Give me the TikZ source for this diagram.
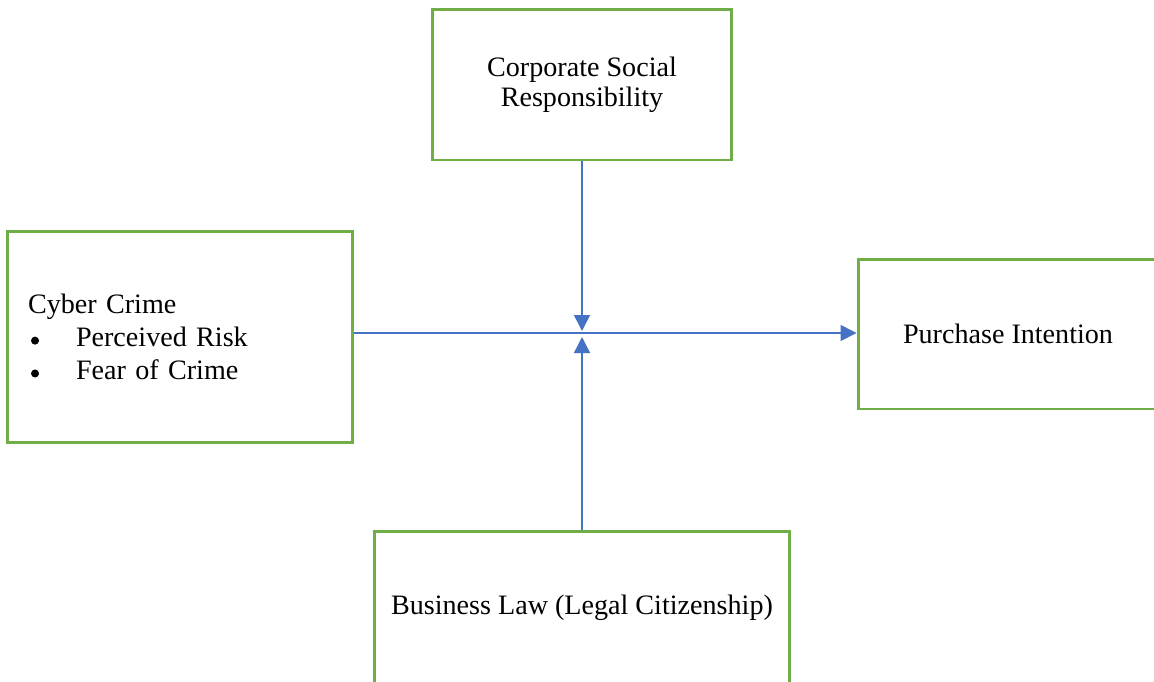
\documentclass[tikz,border=0pt]{standalone}
\usepackage{fontspec}
\setmainfont{Liberation Serif}
\usetikzlibrary{arrows.meta}

\definecolor{boxgreen}{RGB}{112,173,71}
\definecolor{linkblue}{RGB}{68,114,196}

% round list marker
\newcommand{\dotmark}{\makebox[0.96cm][l]{\hspace{0.06cm}\tikz[baseline=-0.12cm]\fill (0,0) circle (0.08cm);}}

\begin{document}
\begin{tikzpicture}[x=0.02cm,y=-0.02cm,
    box/.style={draw=boxgreen,line width=1.7pt,align=center,
      font=\fontsize{16}{17}\selectfont},
    link/.style={draw=linkblue,line width=0.85pt,
      -{Triangle[length=0.32cm,width=0.32cm]}}]
        \useasboundingbox (0,0) rectangle (1154,681);
        \clip (0,0) rectangle (1154,681);

        % the four constructs
        \node[box,minimum width=6cm,minimum height=3.02cm] (csr) at (582,84.5)
          {Corporate Social\\Responsibility};
        \node[box,minimum width=6.92cm,minimum height=4.24cm,inner xsep=0.42cm,
          text width=6.08cm,align=left,font=\fontsize{16}{18.7}\selectfont] (cyber) at (180,337)
          {Cyber Crime\\
           \dotmark Perceived Risk\\
           \dotmark Fear of Crime};
        \node[box,minimum width=6cm,minimum height=3cm] (purchase) at (1008,334)
          {Purchase Intention};
        \node[box,minimum width=8.32cm,minimum height=3.08cm] (law) at (582,608)
          {Business Law (Legal Citizenship)};

        % main path and the two moderators
        \coordinate (hub) at (582,333);
        \draw[link] (cyber.east |- hub) -- (purchase.west |- hub);
        \draw[link] (csr) -- ([yshift=0.04cm]hub);
        \draw[link] (law) -- ([yshift=-0.08cm]hub);
\end{tikzpicture}
\end{document}
